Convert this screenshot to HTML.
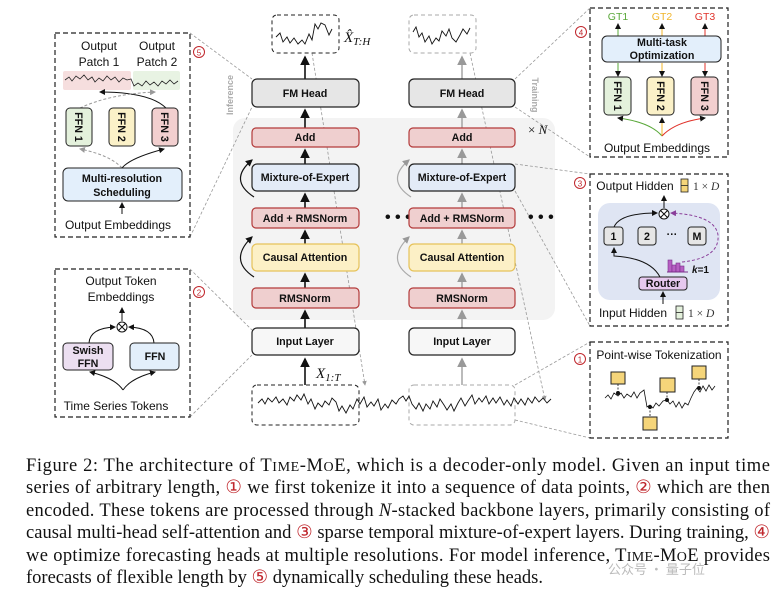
<!DOCTYPE html>
<html><head><meta charset="utf-8"><style>
html,body{margin:0;padding:0;background:#fff;}
svg{display:block;}
.b{font-family:"Liberation Sans",sans-serif;font-weight:bold;font-size:10.7px;fill:#111;}
.s{font-family:"Liberation Sans",sans-serif;font-size:12px;fill:#111;}
.c{font-family:"Liberation Serif",serif;font-size:18.5px;fill:#111;}
.r{fill:#c0272d;}
</style></head><body>
<svg width="778" height="598" viewBox="0 0 778 598" xmlns="http://www.w3.org/2000/svg">
<defs>
<marker id="a" markerWidth="6" markerHeight="6" refX="5" refY="3" orient="auto"><path d="M0,0 L6,3 L0,6 z" fill="#111"/></marker>
<marker id="ag" markerWidth="6" markerHeight="6" refX="5" refY="3" orient="auto"><path d="M0,0 L6,3 L0,6 z" fill="#999"/></marker>
<marker id="ap" markerWidth="6" markerHeight="6" refX="5" refY="3" orient="auto"><path d="M0,0 L6,3 L0,6 z" fill="#8a3f9a"/></marker>
</defs>

<rect x="233" y="118" width="322" height="202" rx="12" fill="#f3f3f3"/>

<g stroke="#999" stroke-width="0.8" stroke-dasharray="3,2" fill="none">
<line x1="190" y1="33" x2="252" y2="79"/><line x1="190" y1="237" x2="252" y2="107"/>
<line x1="190" y1="269" x2="252" y2="330"/><line x1="190" y1="417" x2="252" y2="355"/>
<line x1="515" y1="79" x2="590" y2="8"/><line x1="515" y1="107" x2="590" y2="157"/>
<line x1="515" y1="164" x2="590" y2="174"/><line x1="515" y1="191" x2="590" y2="326"/>
<line x1="515" y1="385" x2="590" y2="342"/><line x1="515" y1="420" x2="590" y2="438"/>
<line x1="312" y1="53" x2="365" y2="385" marker-end="url(#ag)"/>
<line x1="470" y1="53" x2="545" y2="400" marker-end="url(#ag)"/>
</g>

<!-- Panel 5 -->
<rect x="55" y="33" width="135" height="204" fill="none" stroke="#222" stroke-width="1.2" stroke-dasharray="5,3"/>
<circle cx="199" cy="52" r="5.5" fill="none" stroke="#c0272d"/><text x="199" y="55.5" font-size="8" text-anchor="middle" class="r" font-family="Liberation Sans">5</text>
<text class="s" x="99" y="50" text-anchor="middle">Output</text><text class="s" x="99" y="66" text-anchor="middle">Patch 1</text>
<text class="s" x="157" y="50" text-anchor="middle">Output</text><text class="s" x="157" y="66" text-anchor="middle">Patch 2</text>
<rect x="63" y="71" width="68" height="19" rx="2" fill="#f6dede"/><rect x="133" y="71" width="47" height="19" rx="2" fill="#e8f3e3"/>
<polyline fill="none" stroke="#222" stroke-width="0.8" points="65,80 69,77 72,81 76,76 80,79 84,75 88,80 92,77 95,82 99,78 103,81 107,76 111,80 115,77 119,82 123,78 127,80 131,79 134,86 138,83 142,86 146,81 150,85 154,82 158,86 162,81 166,84 170,80 174,84 178,81"/>
<path d="M166,108 Q150,92 100,92" fill="none" stroke="#111" stroke-width="1" marker-end="url(#a)"/>
<path d="M80,108 Q110,94 155,92" fill="none" stroke="#999" stroke-width="1" stroke-dasharray="3,2" marker-end="url(#ag)"/>
<rect x="66" y="108" width="26" height="38" rx="4" fill="#e4f1dc" stroke="#222"/>
<rect x="109" y="108" width="26" height="38" rx="4" fill="#fbf1c8" stroke="#222"/>
<rect x="152" y="108" width="26" height="38" rx="4" fill="#f2cfcf" stroke="#222"/>
<text class="b" transform="translate(75,127) rotate(90)" text-anchor="middle">FFN 1</text>
<text class="b" transform="translate(118,127) rotate(90)" text-anchor="middle">FFN 2</text>
<text class="b" transform="translate(161,127) rotate(90)" text-anchor="middle">FFN 3</text>
<path d="M122,168 Q110,155 80,149" fill="none" stroke="#999" stroke-dasharray="3,2" marker-end="url(#ag)"/>
<path d="M122,168 Q130,158 164,149" fill="none" stroke="#111" marker-end="url(#a)"/>
<rect x="63" y="168" width="119" height="33" rx="5" fill="#e3effb" stroke="#222"/>
<text class="b" x="122" y="182" text-anchor="middle">Multi-resolution</text><text class="b" x="122" y="196" text-anchor="middle">Scheduling</text>
<line x1="122" y1="214" x2="122" y2="203" stroke="#111" marker-end="url(#a)"/>
<text class="s" x="118" y="229" text-anchor="middle">Output Embeddings</text>

<!-- Panel 2 -->
<rect x="55" y="269" width="135" height="148" fill="none" stroke="#222" stroke-width="1.2" stroke-dasharray="5,3"/>
<circle cx="199" cy="292" r="5.5" fill="none" stroke="#c0272d"/><text x="199" y="295.5" font-size="8" text-anchor="middle" class="r" font-family="Liberation Sans">2</text>
<text class="s" x="121" y="285" text-anchor="middle">Output Token</text><text class="s" x="121" y="301" text-anchor="middle">Embeddings</text>
<circle cx="122" cy="327" r="5" fill="#fff" stroke="#111"/><path d="M118.5,323.5 L125.5,330.5 M125.5,323.5 L118.5,330.5" stroke="#111"/>
<line x1="122" y1="321" x2="122" y2="308" stroke="#111" marker-end="url(#a)"/>
<path d="M89,343 Q90,328 115,327" fill="none" stroke="#111" marker-end="url(#a)"/>
<path d="M154,343 Q153,328 129,327" fill="none" stroke="#111" marker-end="url(#a)"/>
<rect x="63" y="343" width="50" height="27" rx="4" fill="#ecdff1" stroke="#222"/>
<rect x="130" y="343" width="49" height="27" rx="4" fill="#e3effb" stroke="#222"/>
<text class="b" x="88" y="354" text-anchor="middle">Swish</text><text class="b" x="88" y="367" text-anchor="middle">FFN</text>
<text class="b" x="155" y="360" text-anchor="middle">FFN</text>
<path d="M123,390 Q115,378 90,372" fill="none" stroke="#111" marker-end="url(#a)"/>
<path d="M123,390 Q131,378 155,372" fill="none" stroke="#111" marker-end="url(#a)"/>
<text class="s" x="116" y="410" text-anchor="middle">Time Series Tokens</text>

<text transform="translate(233,95) rotate(-90)" font-family="Liberation Sans" font-weight="bold" font-size="9" fill="#aaa" text-anchor="middle">Inference</text>
<text transform="translate(532,95) rotate(90)" font-family="Liberation Sans" font-weight="bold" font-size="9" fill="#aaa" text-anchor="middle">Training</text>

<!-- Column 1 -->
<rect x="272" y="15" width="67" height="38" rx="5" fill="#fff" stroke="#222" stroke-dasharray="4,3"/>
<polyline fill="none" stroke="#111" stroke-width="0.9" points="276,37 280,33 283,42 287,37 290,43 294,38 298,44 302,40 305,44 309,34 312,40 315,24 318,29 321,23 325,25 329,35 332,29"/>
<text x="344" y="42" font-family="Liberation Serif" font-style="italic" font-size="15" fill="#111">X̂<tspan font-size="11" dy="3">T:H</tspan></text>
<g stroke="#111" stroke-width="1.6">
<line x1="305" y1="79" x2="305" y2="57" marker-end="url(#a)"/>
<line x1="305" y1="128" x2="305" y2="110" marker-end="url(#a)"/>
<line x1="305" y1="164" x2="305" y2="150" marker-end="url(#a)"/>
<line x1="305" y1="208" x2="305" y2="194" marker-end="url(#a)"/>
<line x1="305" y1="244" x2="305" y2="231" marker-end="url(#a)"/>
<line x1="305" y1="288" x2="305" y2="274" marker-end="url(#a)"/>
<line x1="305" y1="328" x2="305" y2="311" marker-end="url(#a)"/>
<line x1="305" y1="385" x2="305" y2="359" marker-end="url(#a)"/>
</g>
<path d="M254,197 Q228,180 252,160" fill="none" stroke="#111" stroke-width="1.2" marker-end="url(#a)"/>
<path d="M254,277 Q228,260 252,237" fill="none" stroke="#111" stroke-width="1.2" marker-end="url(#a)"/>
<rect x="252" y="79" width="107" height="28" rx="5" fill="#e6e6e6" stroke="#222" stroke-width="1.2"/>
<rect x="252" y="128" width="107" height="19" rx="4" fill="#efcfcf" stroke="#b33a3a" stroke-width="1.2"/>
<rect x="252" y="164" width="107" height="27" rx="5" fill="#e3ebf7" stroke="#222" stroke-width="1.2"/>
<rect x="252" y="208" width="107" height="20" rx="4" fill="#efcfcf" stroke="#b33a3a" stroke-width="1.2"/>
<rect x="252" y="244" width="107" height="27" rx="5" fill="#fcf0c6" stroke="#e6c25a" stroke-width="1.2"/>
<rect x="252" y="288" width="107" height="20" rx="4" fill="#efcfcf" stroke="#b33a3a" stroke-width="1.2"/>
<rect x="252" y="328" width="107" height="27" rx="5" fill="#f7f7f7" stroke="#222" stroke-width="1.2"/>
<text class="b" x="305" y="97" text-anchor="middle">FM Head</text>
<text class="b" x="305" y="141" text-anchor="middle">Add</text>
<text class="b" x="305" y="181" text-anchor="middle">Mixture-of-Expert</text>
<text class="b" x="305" y="222" text-anchor="middle">Add + RMSNorm</text>
<text class="b" x="305" y="261" text-anchor="middle">Causal Attention</text>
<text class="b" x="305" y="302" text-anchor="middle">RMSNorm</text>
<text class="b" x="305" y="345" text-anchor="middle">Input Layer</text>
<text x="316" y="378" font-family="Liberation Serif" font-style="italic" font-size="15" fill="#111">X<tspan font-size="11" dy="3">1:T</tspan></text>
<text x="385" y="222" font-size="16" font-family="Liberation Sans" font-weight="bold" fill="#111">• • •</text>
<text x="528" y="222" font-size="16" font-family="Liberation Sans" font-weight="bold" fill="#111">• • •</text>
<text x="528" y="134" font-family="Liberation Serif" font-size="13" fill="#111">× <tspan font-style="italic">N</tspan></text>

<!-- Column 2 -->
<rect x="409" y="15" width="67" height="38" rx="5" fill="#fff" stroke="#aaa" stroke-dasharray="4,3"/>
<polyline fill="none" stroke="#111" stroke-width="0.9" points="413,32 416,27 419,37 422,33 425,42 429,36 432,44 436,38 439,41 442,31 446,36 449,29 452,38 456,42 460,35 463,29 467,34 470,28"/>
<g stroke="#aaa" stroke-width="1.6">
<line x1="462" y1="79" x2="462" y2="57" marker-end="url(#ag)"/>
<line x1="462" y1="128" x2="462" y2="110" marker-end="url(#ag)"/>
<line x1="462" y1="164" x2="462" y2="150" marker-end="url(#ag)"/>
<line x1="462" y1="208" x2="462" y2="194" marker-end="url(#ag)"/>
<line x1="462" y1="244" x2="462" y2="231" marker-end="url(#ag)"/>
<line x1="462" y1="288" x2="462" y2="274" marker-end="url(#ag)"/>
<line x1="462" y1="328" x2="462" y2="311" marker-end="url(#ag)"/>
<line x1="462" y1="385" x2="462" y2="359" marker-end="url(#ag)"/>
</g>
<path d="M411,197 Q385,180 409,160" fill="none" stroke="#aaa" stroke-width="1.2" marker-end="url(#ag)"/>
<path d="M411,277 Q385,260 409,237" fill="none" stroke="#aaa" stroke-width="1.2" marker-end="url(#ag)"/>
<rect x="409" y="79" width="106" height="28" rx="5" fill="#e6e6e6" stroke="#222" stroke-width="1.2"/>
<rect x="409" y="128" width="106" height="19" rx="4" fill="#efcfcf" stroke="#b33a3a" stroke-width="1.2"/>
<rect x="409" y="164" width="106" height="27" rx="5" fill="#e3ebf7" stroke="#222" stroke-width="1.2"/>
<rect x="409" y="208" width="106" height="20" rx="4" fill="#efcfcf" stroke="#b33a3a" stroke-width="1.2"/>
<rect x="409" y="244" width="106" height="27" rx="5" fill="#fcf0c6" stroke="#e6c25a" stroke-width="1.2"/>
<rect x="409" y="288" width="106" height="20" rx="4" fill="#efcfcf" stroke="#b33a3a" stroke-width="1.2"/>
<rect x="409" y="328" width="106" height="27" rx="5" fill="#f7f7f7" stroke="#222" stroke-width="1.2"/>
<text class="b" x="462" y="97" text-anchor="middle">FM Head</text>
<text class="b" x="462" y="141" text-anchor="middle">Add</text>
<text class="b" x="462" y="181" text-anchor="middle">Mixture-of-Expert</text>
<text class="b" x="462" y="222" text-anchor="middle">Add + RMSNorm</text>
<text class="b" x="462" y="261" text-anchor="middle">Causal Attention</text>
<text class="b" x="462" y="302" text-anchor="middle">RMSNorm</text>
<text class="b" x="462" y="345" text-anchor="middle">Input Layer</text>

<!-- bottom series -->
<rect x="252" y="385" width="107" height="40" rx="5" fill="none" stroke="#222" stroke-dasharray="4,3"/>
<rect x="409" y="385" width="106" height="40" rx="5" fill="none" stroke="#aaa" stroke-dasharray="4,3"/>
<polyline fill="none" stroke="#111" stroke-width="0.9" points="258,403 262,399 265,404 268,398 272,402 276,397 279,403 283,399 287,405 290,397 294,401 297,395 301,400 304,394 308,404 311,399 315,409 318,403 322,407 325,401 329,405 332,398 336,402 339,411 342,406 346,413 350,405 353,409 357,399 360,404 364,397 367,407 371,402 374,406 378,399 381,410 385,404 388,408 392,400 396,404 399,399 403,396 406,401 409,396 412,404 416,409 419,403 423,411 426,404 430,409 433,401 437,407 440,399 444,405 447,410 451,404 454,411 458,403 461,398 465,406 468,401 472,395 475,404 479,398 482,402 486,396 489,404 493,398 496,403 500,397 504,405 507,400 511,406 514,398 518,404 521,399 525,405 528,398 532,403 535,397 539,402 543,398 547,403 551,399"/>

<!-- Panel 4 -->
<rect x="590" y="8" width="138" height="149" fill="none" stroke="#222" stroke-width="1.2" stroke-dasharray="5,3"/>
<circle cx="581" cy="32" r="5.5" fill="none" stroke="#c0272d"/><text x="581" y="35.5" font-size="8" text-anchor="middle" class="r" font-family="Liberation Sans">4</text>
<text x="618" y="20" font-family="Liberation Sans" font-size="10.5" fill="#5aa83a" text-anchor="middle">GT1</text>
<text x="662" y="20" font-family="Liberation Sans" font-size="10.5" fill="#f0b429" text-anchor="middle">GT2</text>
<text x="705" y="20" font-family="Liberation Sans" font-size="10.5" fill="#e0332b" text-anchor="middle">GT3</text>
<line x1="618" y1="36" x2="618" y2="24" stroke="#5aa83a" marker-end="url(#a)"/>
<line x1="662" y1="36" x2="662" y2="24" stroke="#f0b429" marker-end="url(#a)"/>
<line x1="705" y1="36" x2="705" y2="24" stroke="#e0332b" marker-end="url(#a)"/>
<rect x="602" y="36" width="119" height="26" rx="5" fill="#e3effb" stroke="#222"/>
<text class="b" x="662" y="46" text-anchor="middle" font-size="10">Multi-task</text><text class="b" x="662" y="59" text-anchor="middle" font-size="10">Optimization</text>
<line x1="618" y1="63" x2="618" y2="76" stroke="#5aa83a" marker-end="url(#a)"/>
<line x1="662" y1="63" x2="662" y2="76" stroke="#f0b429" marker-end="url(#a)"/>
<line x1="705" y1="63" x2="705" y2="76" stroke="#e0332b" marker-end="url(#a)"/>
<rect x="604" y="77" width="27" height="38" rx="4" fill="#e4f1dc" stroke="#222"/>
<rect x="647" y="77" width="27" height="38" rx="4" fill="#fbf1c8" stroke="#222"/>
<rect x="691" y="77" width="27" height="38" rx="4" fill="#f2cfcf" stroke="#222"/>
<text class="b" transform="translate(614,96) rotate(90)" text-anchor="middle">FFN 1</text>
<text class="b" transform="translate(657,96) rotate(90)" text-anchor="middle">FFN 2</text>
<text class="b" transform="translate(701,96) rotate(90)" text-anchor="middle">FFN 3</text>
<path d="M662,136 Q650,122 618,118" fill="none" stroke="#5aa83a" marker-end="url(#a)"/>
<line x1="662" y1="136" x2="662" y2="118" stroke="#f0b429" marker-end="url(#a)"/>
<path d="M662,136 Q675,122 705,118" fill="none" stroke="#e0332b" marker-end="url(#a)"/>
<text class="s" x="657" y="152" text-anchor="middle">Output Embeddings</text>

<!-- Panel 3 -->
<rect x="590" y="174" width="138" height="152" fill="none" stroke="#222" stroke-width="1.2" stroke-dasharray="5,3"/>
<circle cx="580" cy="183" r="5.5" fill="none" stroke="#c0272d"/><text x="580" y="186.5" font-size="8" text-anchor="middle" class="r" font-family="Liberation Sans">3</text>
<text class="s" x="635" y="190" text-anchor="middle">Output Hidden</text>
<rect x="681" y="179" width="7" height="13" fill="#f5d57a" stroke="#222" stroke-width="0.8"/><line x1="681" y1="185.5" x2="688" y2="185.5" stroke="#222" stroke-width="0.8"/>
<text x="693" y="190" font-family="Liberation Serif" font-size="11.5" fill="#333">1 × <tspan font-style="italic">D</tspan></text>
<rect x="598" y="203" width="122" height="97" rx="12" fill="#dfe5f3"/>
<line x1="664" y1="208" x2="664" y2="196" stroke="#111" marker-end="url(#a)"/>
<circle cx="664" cy="214" r="5" fill="#fff" stroke="#111"/><path d="M660.5,210.5 L667.5,217.5 M667.5,210.5 L660.5,217.5" stroke="#111"/>
<path d="M614,227 Q620,213 657,213" fill="none" stroke="#111" marker-end="url(#a)"/>
<path d="M682,262 Q720,258 718,235 Q715,215 671,213" fill="none" stroke="#8a3f9a" stroke-dasharray="3,2" marker-end="url(#ap)"/>
<rect x="604" y="227" width="19" height="18" rx="3" fill="#e6e6e6" stroke="#222"/>
<rect x="638" y="227" width="18" height="18" rx="3" fill="#e6e6e6" stroke="#222"/>
<rect x="688" y="227" width="18" height="18" rx="3" fill="#e6e6e6" stroke="#222"/>
<text class="b" x="613.5" y="240" text-anchor="middle">1</text><text class="b" x="647" y="240" text-anchor="middle">2</text><text class="b" x="697" y="240" text-anchor="middle">M</text>
<text class="b" x="672" y="238" text-anchor="middle">···</text>
<path d="M660,277 Q650,258 614,256 L614,248" fill="none" stroke="#111" marker-end="url(#a)"/>
<g fill="#b65fc3" stroke="#7a2e8a" stroke-width="0.6">
<rect x="668" y="260" width="4" height="12"/><rect x="672" y="265" width="4" height="7"/><rect x="676" y="263" width="4" height="9"/><rect x="680" y="266" width="4" height="6"/></g>
<line x1="667" y1="272" x2="688" y2="272" stroke="#7a2e8a"/>
<text x="692" y="273" font-family="Liberation Sans" font-weight="bold" font-size="10" fill="#111"><tspan font-style="italic">k</tspan>=1</text>
<rect x="639" y="277" width="48" height="13" rx="3" fill="#e6c8ee" stroke="#222"/>
<text class="b" x="663" y="287" text-anchor="middle" font-size="9.5">Router</text>
<line x1="663" y1="304" x2="663" y2="292" stroke="#111" marker-end="url(#a)"/>
<text class="s" x="633" y="317" text-anchor="middle">Input Hidden</text>
<rect x="676" y="306" width="7" height="13" fill="#e4f1dc" stroke="#222" stroke-width="0.8"/><line x1="676" y1="312.5" x2="683" y2="312.5" stroke="#222" stroke-width="0.8"/>
<text x="688" y="317" font-family="Liberation Serif" font-size="11.5" fill="#333">1 × <tspan font-style="italic">D</tspan></text>

<!-- Panel 1 -->
<rect x="590" y="342" width="138" height="96" fill="none" stroke="#222" stroke-width="1.2" stroke-dasharray="5,3"/>
<circle cx="580" cy="359" r="5.5" fill="none" stroke="#c0272d"/><text x="580" y="362.5" font-size="8" text-anchor="middle" class="r" font-family="Liberation Sans">1</text>
<text class="s" x="659" y="359" text-anchor="middle" font-size="11.5">Point-wise Tokenization</text>
<polyline fill="none" stroke="#111" stroke-width="0.8" points="605,398 608,395 611,399 614,393 618,396 621,393 624,398 627,394 631,397 634,392 637,398 640,393 644,390 647,407 650,405 653,408 656,403 659,406 663,401 667,400 670,404 673,401 676,407 679,402 682,408 685,403 688,405 691,398 694,392 697,388 700,392 703,386 706,391 709,385 712,390 715,386"/>
<g stroke="#111" stroke-width="0.8" stroke-dasharray="2,1.5">
<line x1="618" y1="384" x2="618" y2="393"/><line x1="650" y1="407" x2="650" y2="417"/><line x1="667" y1="392" x2="667" y2="400"/><line x1="699" y1="379" x2="699" y2="388"/></g>
<g fill="#111"><circle cx="618" cy="393" r="2"/><circle cx="650" cy="407" r="2"/><circle cx="667" cy="400" r="2"/><circle cx="699" cy="388" r="2"/></g>
<g fill="#f5d57a" stroke="#222"><rect x="611" y="372" width="14" height="12"/><rect x="643" y="417" width="14" height="13"/><rect x="660" y="378" width="15" height="14"/><rect x="692" y="366" width="14" height="13"/></g>

<!-- Caption -->
<text class="c" x="26" y="471" textLength="744" lengthAdjust="spacing">Figure 2: The architecture of T<tspan font-size="14">IME</tspan>-M<tspan font-size="14">O</tspan>E, which is a decoder-only model.  Given an input time</text>
<text class="c" x="26" y="493" textLength="744" lengthAdjust="spacing">series of arbitrary length, <tspan class="r">①</tspan> we first tokenize it into a sequence of data points, <tspan class="r">②</tspan> which are then</text>
<text class="c" x="26" y="516" textLength="744" lengthAdjust="spacing">encoded.  These tokens are processed through <tspan font-style="italic">N</tspan>-stacked backbone layers, primarily consisting of</text>
<text class="c" x="26" y="538" textLength="744" lengthAdjust="spacing">causal multi-head self-attention and <tspan class="r">③</tspan> sparse temporal mixture-of-expert layers. During training, <tspan class="r">④</tspan></text>
<text class="c" x="26" y="561" textLength="744" lengthAdjust="spacing">we optimize forecasting heads at multiple resolutions.  For model inference, T<tspan font-size="14">IME</tspan>-M<tspan font-size="14">O</tspan>E provides</text>
<text class="c" x="26" y="583">forecasts of flexible length by <tspan class="r">⑤</tspan> dynamically scheduling these heads.</text>
<text x="608" y="574" font-family="Noto Sans CJK SC, sans-serif" font-size="13" fill="#bbb">公众号 · 量子位</text>
</svg>
</body></html>
